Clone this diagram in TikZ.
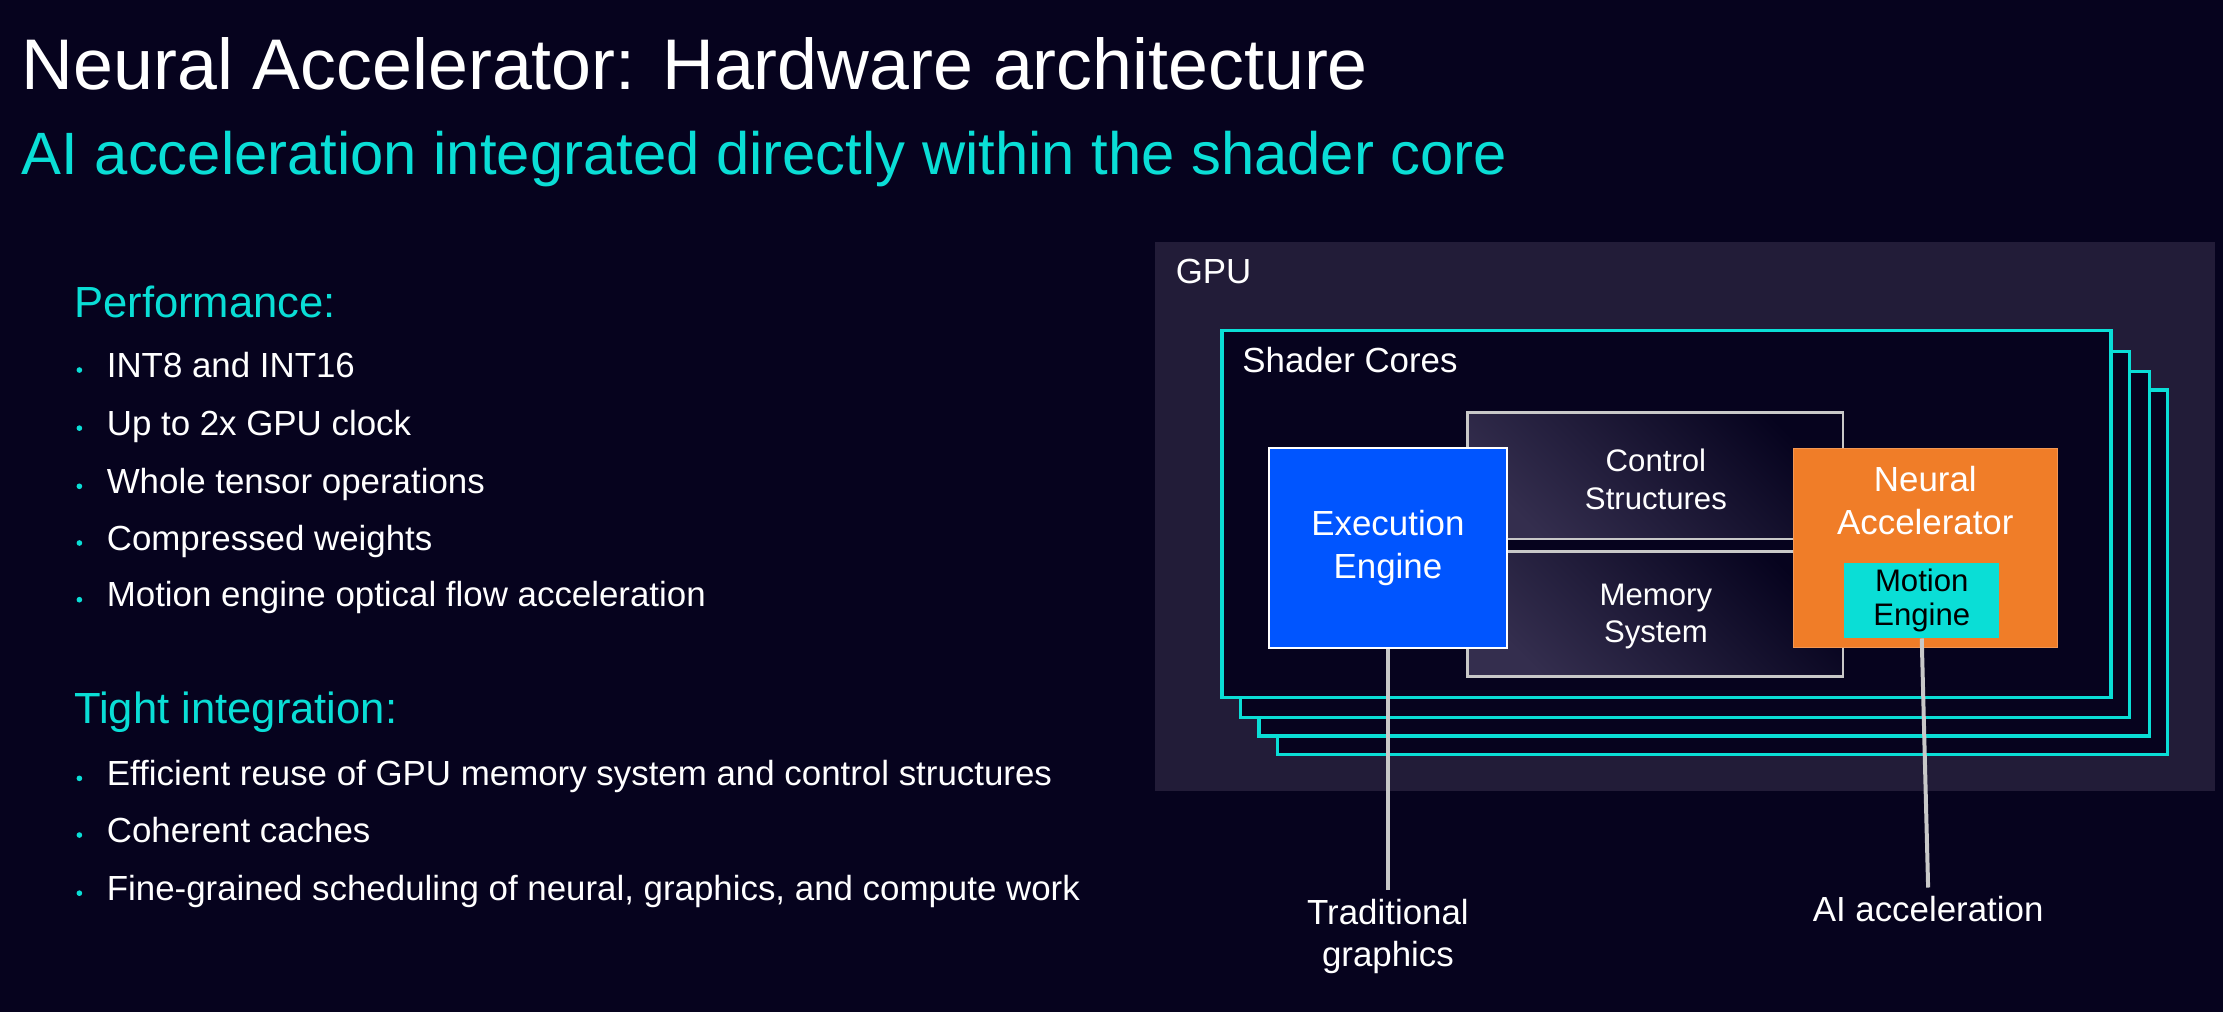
\documentclass[tikz,border=0pt]{standalone}
\usepackage{fontspec}
\setmainfont{Liberation Sans}
\usetikzlibrary{positioning}
\definecolor{bgnavy}{RGB}{6,3,30}
\definecolor{gpubg}{RGB}{34,28,56}
\definecolor{glow}{RGB}{52,46,78}
\definecolor{cyanish}{RGB}{10,222,214}
\definecolor{exblue}{RGB}{0,85,255}
\definecolor{naorange}{RGB}{240,125,40}
\definecolor{lightgray}{RGB}{200,200,200}
\tikzset{
  bullet/.style={anchor=base west, inner sep=0pt, text=white, font=\fontsize{14}{16}\selectfont},
  heading/.style={anchor=base west, inner sep=0pt, text=cyanish, font=\fontsize{17.5}{20}\selectfont},
  core/.style={draw=cyanish, line width=1.4pt, fill=bgnavy},
  block/.style={draw=lightgray, line width=1pt, left color=bgnavy, right color=glow, shading angle=-45},
  lbl/.style={text=white, align=center, font=\fontsize{14}{17}\selectfont},
}
\begin{document}
\begin{tikzpicture}[x=0.02cm, y=-0.02cm]
    \fill[bgnavy] (0,0) rectangle (1568,714);
    % titles
    \node[anchor=base west, inner sep=0pt, text=white, font=\fontsize{28.8}{32}\selectfont] (title) at (15,63) {Neural Accelerator: Hardware architecture};
    \node[anchor=base west, inner sep=0pt, text=cyanish, font=\fontsize{24}{28}\selectfont] (subtitle) at (15,123) {AI acceleration integrated directly within the shader core};
    % left column
    \node[heading] (perf) at (52,224) {Performance:};
    \foreach \y/\t in {266/INT8 and INT16, 307/Up to 2x GPU clock, 348/Whole tensor operations,
        388/Compressed weights, 428/Motion engine optical flow acceleration,
        554/Efficient reuse of GPU memory system and control structures, 594/Coherent caches,
        635/{Fine-grained scheduling of neural, graphics, and compute work}} {
        \fill[cyanish] (56,\y-5) circle (2);
        \node[bullet] at (75,\y) {\t};
    }
    \node[heading] (tight) at (52,510) {Tight integration:};
    % GPU
    \fill[gpubg] (815,171) rectangle (1562,558);
    \node[lbl, anchor=base west, inner sep=0pt] (gpu) at (829,200) {GPU};
    \draw[core] (901,275) rectangle (1529,532);
    \draw[core] (888,262) rectangle (1516,519);
    \draw[core] (875,248) rectangle (1502,506);
    \draw[core] (862,233) rectangle (1489,492);
    \node[lbl, anchor=base west, inner sep=0pt] (shader) at (876,263) {Shader Cores};
    % blocks
    \draw[block] (1035,291) rectangle (1300,380);
    \draw[block] (1035,389) rectangle (1300,477);
    \node[lbl, font=\fontsize{12.5}{15}\selectfont] (ctrl) at (1168,338) {Control\\Structures};
    \node[lbl, font=\fontsize{12.5}{15}\selectfont] (mem) at (1168,435) {Memory\\System};
    \node[draw=white, line width=0.8pt, fill=exblue, minimum width=168*0.02cm, minimum height=141*0.02cm,
        lbl, font=\fontsize{14}{17}\selectfont] (exec) at (979,386.5) {Execution\\Engine};
    \node[draw=naorange!80!white, fill=naorange, minimum width=186*0.02cm, minimum height=141*0.02cm] (na) at (1358,386.5) {};
    \node[lbl, font=\fontsize{14}{17}\selectfont] (natext) at (1358,353) {Neural\\Accelerator};
    \node[fill=cyanish, minimum width=109*0.02cm, minimum height=53*0.02cm, align=center,
        font=\fontsize{12.5}{14}\selectfont, inner sep=0pt] (motion) at (1355.5,423.5) {Motion\\Engine};
    % leaders
    \coordinate (tg) at (979,628);
    \coordinate (ai) at (1360,626);
    \draw[lightgray, line width=1.6pt] (exec.south) -- (tg);
    \draw[lightgray, line width=1.6pt] (motion.south) -- (ai);
    \node[lbl, below=0pt of tg] (tglbl) {Traditional\\graphics};
    \node[lbl, below=0pt of ai] (ailbl) {AI acceleration};
\end{tikzpicture}
\end{document}
